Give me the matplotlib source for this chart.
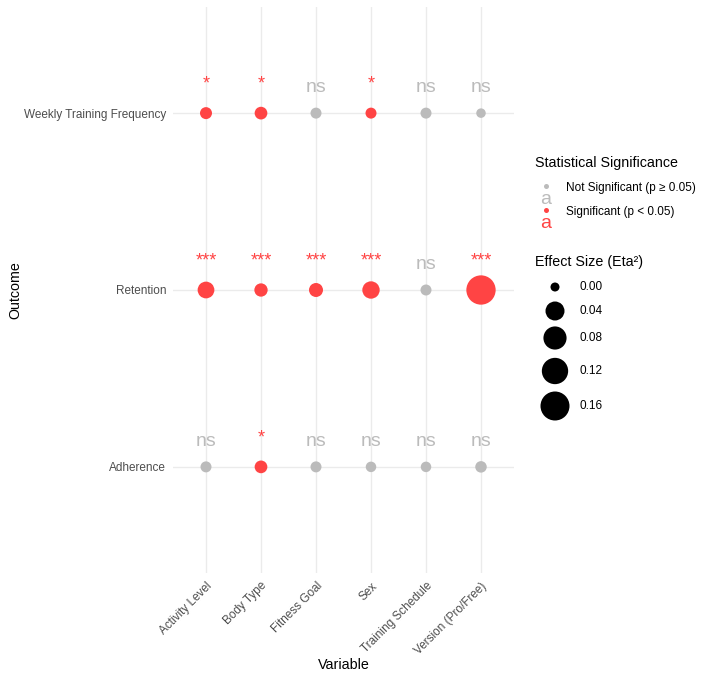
import numpy as np
import matplotlib
matplotlib.use("Agg")
import matplotlib.pyplot as plt

plt.rcParams['font.family'] = ['Liberation Sans', 'DejaVu Sans']

# ---- data ----
variables = ["Activity Level", "Body Type", "Fitness Goal", "Sex",
             "Training Schedule", "Version (Pro/Free)"]
outcomes = ["Adherence", "Retention", "Weekly Training Frequency"]

eta_adherence = [0.0016, 0.0055, 0.0016, 0.0009, 0.0009, 0.0025]
eta_retention = [0.024, 0.0074, 0.010, 0.028, 0.0016, 0.165]
eta_weekly    = [0.0036, 0.0055, 0.0016, 0.0016, 0.0016, 0.0001]

sig_adherence = ["ns", "*", "ns", "ns", "ns", "ns"]
sig_retention = ["***", "***", "***", "***", "ns", "***"]
sig_weekly    = ["*", "*", "ns", "*", "ns", "ns"]

size_breaks = [0.00, 0.04, 0.08, 0.12, 0.16]

RED = "#FF4444"
GREY = "#BBBBBB"
W, H = 710, 685


def marker_area(eta):
    # diameter in px grows with sqrt(eta), converted to points^2 at dpi 100
    d = 9 + 50 * np.sqrt(np.asarray(eta, dtype=float))
    return (d * 0.72) ** 2


fig = plt.figure(figsize=(W / 100, H / 100), dpi=100)
ax = fig.add_axes([173 / W, 1 - 573 / H, (514 - 173) / W, (573 - 7) / H])

x = np.arange(1, len(variables) + 1)
rows = [(eta_adherence, sig_adherence), (eta_retention, sig_retention),
        (eta_weekly, sig_weekly)]
for yi, (eta, sig) in enumerate(rows, start=1):
    cols = [GREY if s == "ns" else RED for s in sig]
    ax.scatter(x, np.full(len(x), yi), s=marker_area(eta), c=cols,
               linewidths=0, zorder=3)
    for xi, s, c in zip(x, sig, cols):
        # asterisks sit a little higher than "ns"
        off = 0.12 if s == "ns" else 0.14
        ax.text(xi, yi + off, s, color=c, fontsize=14 if s == "ns" else 13,
                ha="center", va="baseline", zorder=4)

ax.set_xlim(0.4, len(variables) + 0.6)
ax.set_ylim(0.4, len(outcomes) + 0.6)
ax.set_xticks(x)
ax.set_xticklabels(variables, rotation=45, ha="right",
                   rotation_mode="anchor", fontsize=8.5, color="#4D4D4D")
ax.set_yticks(range(1, len(outcomes) + 1))
ax.set_yticklabels(outcomes, fontsize=8.5, color="#4D4D4D")
ax.tick_params(length=0, pad=5)
ax.grid(True, color="#EBEBEB", linewidth=1)
ax.set_axisbelow(True)
for sp in ax.spines.values():
    sp.set_visible(False)

fig.text(343.5 / W, 1 - 665 / H, "Variable", fontsize=10.3, ha="center", va="center")
fig.text(15 / W, 1 - 290 / H, "Outcome", fontsize=10.3, ha="center", va="center",
         rotation=90)

# ---- legends drawn in a pixel-coordinate overlay ----
lg = fig.add_axes([0, 0, 1, 1], facecolor="none")
lg.set_xlim(0, W)
lg.set_ylim(H, 0)
lg.axis("off")

lg.text(535, 163, "Statistical Significance", fontsize=10.3, va="center")
sig_labels = ["Not Significant (p \u2265 0.05)", "Significant (p < 0.05)"]
for ky, lab, c in zip([187, 211], sig_labels, [GREY, RED]):
    lg.scatter([546], [ky - 1], s=(5 * 0.72) ** 2, c=c, linewidths=0)
    lg.text(546, ky + 17, "a", color=c, fontsize=14, ha="center", va="baseline")
    lg.text(566, ky + 1, lab, fontsize=8.5, va="center")

lg.text(535, 262, "Effect Size (Eta\u00b2)", fontsize=10.3, va="center")
key_y = [287, 311, 338, 371, 406]
lg.scatter(np.full(len(size_breaks), 555), key_y, s=marker_area(size_breaks),
           c="black", linewidths=0)
for ky, b in zip(key_y, size_breaks):
    lg.text(580, ky, f"{b:.2f}", fontsize=8.5, va="center")

fig.savefig("out.png", dpi=100)
